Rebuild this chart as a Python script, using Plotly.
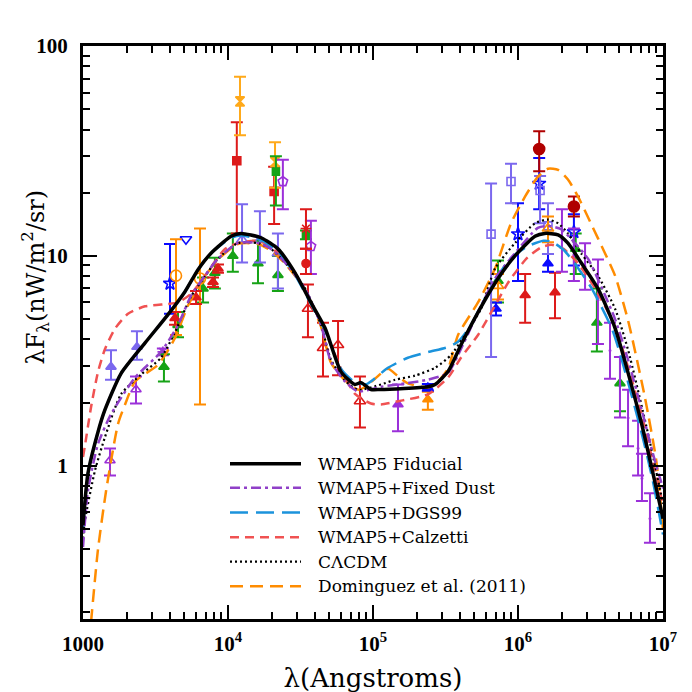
import plotly.graph_objects as go

# ---------------- model curves: wavelength [Angstrom] vs lambda F_lambda [nW/m^2/sr]
fid_lam = [1000, 1082, 1269, 1418, 1828, 2679, 3854, 5047, 6209, 7638, 10500, 12300, 16900,
           22100, 29000, 37300, 46700, 60100, 75100, 82600, 96800, 111600, 239000, 268000,
           329000, 404000, 530000, 728000, 953000, 1.31e6, 1.53e6, 1.89e6, 2.21e6, 2.72e6,
           3.56e6, 4.67e6, 7.05e6, 8.53e6, 1e7]
fid_flux = [0.52, 0.92, 1.45, 1.85, 2.75, 3.85, 5.25, 6.75, 8.6, 10.3, 12.4, 12.8, 12.2,
            10.8, 8.3, 6.0, 4.53, 2.81, 2.44, 2.49, 2.31, 2.31, 2.38, 2.44,
            2.81, 3.76, 5.38, 7.8, 10.0, 12.4, 12.8, 12.6, 11.5, 9.3,
            6.98, 4.53, 1.63, 0.92, 0.56]

dust_lam = [1000, 1082, 1269, 1560, 2285, 3451, 4520, 5560, 6940, 8530, 11700, 16100, 19800,
            24700, 34000, 43800, 51300, 64100, 78800, 113600, 148700, 239000, 329000, 386000,
            530000, 694000, 953000, 1.37e6, 1.61e6, 1.98e6, 2.47e6, 3.04e6, 3.73e6, 4.67e6,
            5.74e6, 7.2e6, 8.5e6, 1e7]
dust_flux = [0.41, 0.76, 1.27, 1.76, 2.63, 3.49, 4.68, 6.47, 8.05, 9.7, 11.5, 11.5, 10.8,
             9.3, 6.98, 4.68, 3.13, 2.52, 2.26, 2.38, 2.44, 2.57, 2.77, 3.37,
             5.38, 7.8, 10.3, 13.6, 13.9, 13.4, 11.5, 9.7, 7.2, 5.0,
             3.2, 1.8, 1.15, 0.78]

dgs_lam = [1000, 1082, 1269, 1418, 1828, 2679, 3854, 5047, 6209, 7638, 10500, 12300, 16900,
           22100, 29000, 37300, 46700, 60100, 75100, 90000, 126800, 174000, 239000, 329000,
           386000, 474000, 556000, 694000, 870000, 1.16e6, 1.5e6, 1.7e6, 2.06e6, 2.52e6,
           3.22e6, 4.5e6, 7.0e6, 8.5e6, 1e7]
dgs_flux = [0.5, 0.92, 1.45, 1.85, 2.75, 3.85, 5.25, 6.75, 8.6, 10.3, 12.2, 12.5, 11.9,
            10.5, 8.1, 5.9, 4.4, 2.9, 2.5, 2.45, 2.93, 3.27, 3.48, 3.68,
            3.9, 4.68, 5.8, 7.6, 9.6, 11.1, 11.8, 11.7, 10.7, 9.0,
            7.0, 4.4, 1.5, 0.85, 0.47]

calz_lam = [1000, 1032, 1136, 1269, 1418, 1662, 2042, 2679, 3854, 4520, 5560, 6940, 9530,
            11700, 15300, 18000, 22100, 29000, 37300, 46700, 60100, 75100, 96800, 113600,
            160000, 239000, 329000, 404000, 530000, 694000, 870000, 1.16e6, 1.45e6, 1.7e6,
            2.06e6, 2.6e6, 3.4e6, 4.67e6, 7.05e6, 8.5e6, 1e7]
calz_flux = [1.1, 1.25, 1.9, 2.8, 3.6, 4.5, 5.3, 5.75, 5.9, 6.0, 6.6, 8.05, 10.8,
             11.5, 11.8, 11.5, 10.3, 8.3, 6.0, 4.4, 2.9, 2.2, 1.98, 1.96,
             2.05, 2.19, 2.63, 3.27, 4.2, 5.8, 7.6, 9.8, 11.0, 11.3,
             10.8, 9.2, 7.0, 4.6, 1.8, 1.05, 0.65]

clcdm_lam = [1000, 1032, 1210, 1418, 1828, 2512, 3451, 4310, 5560, 6940, 8530, 11700, 16100,
             19800, 24700, 34000, 43800, 51300, 64100, 78800, 113600, 142000, 195000, 268000,
             345000, 431000, 556000, 694000, 953000, 1.31e6, 1.61e6, 1.89e6, 2.21e6, 2.72e6,
             3.56e6, 4.67e6, 5.74e6, 7.89e6, 1e7]
clcdm_flux = [0.45, 0.55, 0.95, 1.37, 2.19, 2.72, 3.27, 4.33, 6.4, 8.0, 9.7, 11.5, 11.5,
              10.8, 9.3, 7.0, 4.7, 3.2, 2.55, 2.3, 2.44, 2.57, 2.69, 2.93,
              3.37, 4.2, 5.6, 8.7, 11.5, 14.3, 14.9, 14.3, 12.8, 10.3,
              8.05, 5.6, 3.57, 1.42, 0.66]

dom_lam = [1136, 1269, 1443, 1743, 1950, 2285, 3290, 4300, 5300, 6940, 8530, 11700, 16100,
           19800, 24700, 34000, 43800, 51300, 64100, 80000, 100000, 126800, 148700, 174000,
           239000, 268000, 329000, 386000, 530000, 694000, 895000, 1.12e6, 1.37e6, 1.61e6,
           1.89e6, 2.21e6, 2.59e6, 3.18e6, 3.98e6, 4.67e6, 5.74e6, 7.51e6, 9.0e6, 1e7]
dom_flux = [0.18, 0.40, 0.76, 1.58, 1.96, 2.52, 3.03, 4.05, 5.8, 8.0, 9.6, 11.4, 11.4,
            10.6, 9.2, 6.9, 4.6, 3.1, 2.55, 2.3, 2.55, 2.9, 2.67, 2.47,
            2.36, 2.44, 2.9, 4.2, 6.0, 8.7, 14.3, 19.2, 23.8, 26.0,
            25.7, 23.1, 19.2, 14.3, 10.3, 8.05, 4.93, 2.11, 1.05, 0.5]

# ---------------- measurements (value, upper and lower end of error bar)
slate_tri_lam = [1560, 2355]
slate_tri_f = [2.96, 3.68]
slate_tri_hi = [3.55, 4.38]
slate_tri_lo = [2.57, 3.2]

purple_otri_lam = [1535, 2320]
purple_otri_f = [1.06, 2.31]
purple_otri_hi = [1.21, 2.66]
purple_otri_lo = [0.90, 1.98]

purple_ast_lam = [3555]
purple_ast_f = [3.49]
purple_ast_hi = [3.62]
purple_ast_lo = [3.36]

green_tri_lam = [3616, 4520, 6730, 8120, 10800, 16100, 22100, 728000, 2.5e6, 3.5e6, 5.05e6]
green_tri_f = [2.96, 4.68, 6.98, 8.3, 10.0, 9.2, 8.1, 7.6, 10.8, 4.8, 2.47]
green_tri_hi = [3.4, 5.4, 7.9, 9.8, 12.8, 11.8, 10.0, 9.5, 12.8, 7.0, 3.3]
green_tri_lo = [2.52, 4.1, 6.0, 7.0, 8.4, 7.4, 6.8, 6.0, 8.2, 3.5, 1.82]

blue_star_lam = [3981, 1e6, 1.4e6, 2.43e6]
blue_star_f = [7.38, 12.7, 22.1, 13.0]
blue_star_hi = [11.4, 17.8, 29.3, 15.8]
blue_star_lo = [5.3, 7.6, 16.7, 9.0]

blue_down_lam = [5130]
blue_down_f = [12.0]

orange_circ_lam = [4380, 6410]
orange_circ_f = [8.05, 7.8]
orange_circ_hi = [12.0, 13.5]
orange_circ_lo = [4.2, 1.96]

red_tri_lam = [4310, 6020, 7880, 8530, 1.12e6, 1.80e6]
red_tri_f = [5.05, 6.34, 7.5, 8.7, 6.5, 6.7]
red_tri_hi = [5.4, 6.8, 7.9, 9.1, 8.2, 8.3]
red_tri_lo = [4.7, 5.9, 7.1, 8.3, 4.8, 5.05]

red_sq_lam = [11500, 20800]
red_sq_f = [28.4, 20.3]
red_sq_hi = [43.3, 26.6]
red_sq_lo = [12.8, 14.2]

orange_bow_lam = [12100, 21100]
orange_bow_f = [54.5, 28.0]
orange_bow_hi = [71.4, 34.8]
orange_bow_lo = [37.6, 21.1]

slate_otri_lam = [12500, 16600, 22100]
slate_otri_f = [11.9, 11.9, 10.3]
slate_otri_hi = [17.6, 16.3, 12.8]
slate_otri_lo = [9.3, 9.3, 7.0]

green_sq_lam = [21400, 34500]
green_sq_f = [25.2, 12.6]
green_sq_hi = [29.8, 13.2]
green_sq_lo = [17.4, 12.0]

purple_pent_lam = [23900, 37300]
purple_pent_f = [22.6, 11.1]
purple_pent_hi = [28.7, 14.7]
purple_pent_lo = [16.7, 8.2]

red_ast_lam = [34500]
red_ast_f = [13.5]
red_ast_hi = [16.7]
red_ast_lo = [10.8]

red_circ_lam = [34500]
red_circ_f = [9.2]
red_circ_hi = [10.8]
red_circ_lo = [8.2]

red_otri_lam = [35600, 45200, 57400, 81300]
red_otri_f = [5.6, 3.64, 3.76, 2.03]
red_otri_hi = [7.3, 4.8, 4.9, 2.66]
red_otri_lo = [4.1, 2.66, 2.7, 1.52]

purple_tri_lam = [148700]
purple_tri_f = [1.96]
purple_tri_hi = [2.44]
purple_tri_lo = [1.46]

orange_tri_lam = [239000]
orange_tri_f = [2.07]
orange_tri_hi = [2.25]
orange_tri_lo = [1.85]

blue_tri_lam = [239000, 705000, 1.61e6]
blue_tri_f = [2.36, 5.6, 9.2]
blue_tri_hi = [2.45, 6.0, 10.2]
blue_tri_lo = [2.28, 5.2, 8.4]

slate_osq_lam = [652000, 895000, 1.42e6, 1.61e6]
slate_osq_f = [12.7, 22.6, 20.5, 13.9]
slate_osq_hi = [22.1, 27.5, 24.0, 17.8]
slate_osq_lo = [3.3, 17.8, 14.3, 10.2]

orange_otri_lam = [728000, 1.61e6]
orange_otri_f = [7.2, 13.5]
orange_otri_hi = [8.2, 15.4]
orange_otri_lo = [6.2, 11.6]

dred_circ_lam = [1.40e6, 2.43e6]
dred_circ_f = [32.3, 17.2]
dred_circ_hi = [39.3, 19.2]
dred_circ_lo = [25.3, 15.4]

violet_bar_lam = [2.01e6, 2.43e6, 2.90e6, 3.56e6, 4.31e6, 5.05e6, 5.74e6, 6.73e6, 7.16e6, 8.13e6]
violet_bar_f = [12.0, 10.1, 8.9, 6.15, 3.54, 2.4, 1.69, 1.21, 0.87, 0.56]
violet_bar_hi = [16.7, 13.5, 11.5, 9.6, 4.8, 3.3, 2.3, 1.64, 1.14, 0.74]
violet_bar_lo = [8.4, 7.6, 6.9, 3.8, 2.6, 1.7, 1.24, 0.9, 0.68, 0.43]

legend_labels = ["WMAP5 Fiducial", "WMAP5+Fixed Dust", "WMAP5+DGS99",
                 "WMAP5+Calzetti", "C\u039bCDM", "Dominguez et al. (2011)"]

RED = "#dd1a1a"
DRED = "#b00000"
ORANGE = "#ff8c00"
LORANGE = "#ffa91a"
GREEN = "#16a316"
BLUE = "#0a0aff"
SLATE = "#7b68ee"
PURPLE = "#9b30d9"

SERIF = "DejaVu Serif"

# plot area in pixels (for legend / title placement)
L, R, T, B = 75, 655, 38, 617


def px(x):
    return (x - L) / (R - L)


def py(y):
    return 1 - (y - T) / (B - T)


fig = go.Figure()

# (x, y, colour, dash, width) in legend order
curves = [
    (fid_lam, fid_flux, "black", "solid", 3.5),
    (dust_lam, dust_flux, "#9040c8", "10px,4px,3px,4px", 2.5),
    (dgs_lam, dgs_flux, "#1b93dc", "18px,8px", 2.5),
    (calz_lam, calz_flux, "#f05252", "9px,6px", 2.5),
    (clcdm_lam, clcdm_flux, "black", "2px,3px", 2.2),
    (dom_lam, dom_flux, ORANGE, "13px,7px", 2.5),
]
draw_order = [5, 3, 2, 4, 1, 0]  # fiducial ends up on top


def add_points(lam, f, hi, lo, color, symbol, size=9):
    err = None
    if hi is not None:
        err = dict(type="data", symmetric=False,
                   array=[h - v for h, v in zip(hi, f)],
                   arrayminus=[v - l for v, l in zip(f, lo)],
                   color=color, thickness=2, width=6)
    fig.add_trace(go.Scatter(
        x=lam, y=f, mode="markers", error_y=err,
        marker=dict(symbol=symbol, size=size, color=color,
                    line=dict(color=color, width=1.6)),
        showlegend=False))


add_points(slate_tri_lam, slate_tri_f, slate_tri_hi, slate_tri_lo, SLATE, "triangle-up")
add_points(purple_otri_lam, purple_otri_f, purple_otri_hi, purple_otri_lo, PURPLE, "triangle-up-open")
add_points(purple_ast_lam, purple_ast_f, purple_ast_hi, purple_ast_lo, PURPLE, "asterisk-open")
add_points(green_tri_lam, green_tri_f, green_tri_hi, green_tri_lo, GREEN, "triangle-up")
add_points(blue_star_lam, blue_star_f, blue_star_hi, blue_star_lo, BLUE, "star-open", 10)
add_points(blue_down_lam, blue_down_f, None, None, BLUE, "triangle-down-open", 10)
add_points(orange_circ_lam, orange_circ_f, orange_circ_hi, orange_circ_lo, ORANGE, "circle-open", 11)
add_points(red_tri_lam, red_tri_f, red_tri_hi, red_tri_lo, RED, "triangle-up")
add_points(red_sq_lam, red_sq_f, red_sq_hi, red_sq_lo, RED, "square", 8)
add_points(orange_bow_lam, orange_bow_f, orange_bow_hi, orange_bow_lo, LORANGE, "hourglass", 9)
add_points(slate_otri_lam, slate_otri_f, slate_otri_hi, slate_otri_lo, SLATE, "triangle-up-open", 10)
add_points(green_sq_lam, green_sq_f, green_sq_hi, green_sq_lo, GREEN, "square", 7)
add_points(purple_pent_lam, purple_pent_f, purple_pent_hi, purple_pent_lo, PURPLE, "pentagon-open", 10)
add_points(red_ast_lam, red_ast_f, red_ast_hi, red_ast_lo, RED, "asterisk-open", 9)
add_points(red_circ_lam, red_circ_f, red_circ_hi, red_circ_lo, RED, "circle", 8)
add_points(red_otri_lam, red_otri_f, red_otri_hi, red_otri_lo, RED, "triangle-up-open", 10)
add_points(purple_tri_lam, purple_tri_f, purple_tri_hi, purple_tri_lo, PURPLE, "triangle-up")
add_points(orange_tri_lam, orange_tri_f, orange_tri_hi, orange_tri_lo, ORANGE, "triangle-up")
add_points(blue_tri_lam, blue_tri_f, blue_tri_hi, blue_tri_lo, BLUE, "triangle-up")
add_points(slate_osq_lam, slate_osq_f, slate_osq_hi, slate_osq_lo, SLATE, "square-open", 8)
add_points(orange_otri_lam, orange_otri_f, orange_otri_hi, orange_otri_lo, ORANGE, "triangle-up-open", 10)
add_points(dred_circ_lam, dred_circ_f, dred_circ_hi, dred_circ_lo, DRED, "circle", 11)
add_points(violet_bar_lam, violet_bar_f, violet_bar_hi, violet_bar_lo, PURPLE, "line-ew-open", 2)

for i in draw_order:
    lam, flux, color, dash, width = curves[i]
    fig.add_trace(go.Scatter(
        x=lam, y=flux, mode="lines",
        line=dict(color=color, dash=dash, width=width, shape="spline", smoothing=0.6),
        showlegend=False))

# hand-drawn legend (long line samples as in the original)
rows = [460, 484.5, 509.5, 534.5, 559, 584]
for (lam, flux, color, dash, width), label, yrow in zip(curves, legend_labels, rows):
    fig.add_shape(type="line", xref="paper", yref="paper",
                  x0=px(222), x1=px(293), y0=py(yrow), y1=py(yrow),
                  line=dict(color=color, dash=dash, width=width))
    fig.add_annotation(text=label, xref="paper", yref="paper",
                       x=px(308), y=py(yrow), xanchor="left", yanchor="middle",
                       showarrow=False, font=dict(family=SERIF, size=17, color="black"))

fig.add_annotation(text="\u03bbF<sub>\u03bb</sub>(nW/m<sup>2</sup>/sr)",
                   xref="paper", yref="paper", textangle=-90,
                   x=px(27), y=py(272), xanchor="center", yanchor="middle",
                   showarrow=False, font=dict(family=SERIF, size=24, color="black"))

x_minor = [m * 10 ** e for e in range(3, 7) for m in range(2, 10)]
y_minor = [m * 10 ** e for e in (-1, 0, 1) for m in range(2, 10)]

tickfont = dict(family="Liberation Serif", size=21, color="black", weight="bold")

fig.update_xaxes(
    type="log", range=[3, 7],
    tickvals=[1000, 1e4, 1e5, 1e6, 1e7],
    ticktext=["1000", "10<sup>4</sup>", "10<sup>5</sup>", "10<sup>6</sup>", "10<sup>7</sup>"],
    ticks="inside", ticklen=14, tickwidth=2, tickcolor="black",
    minor=dict(ticks="inside", ticklen=7, tickwidth=2, tickcolor="black", tickvals=x_minor),
    showline=True, linecolor="black", linewidth=3, mirror="allticks",
    showgrid=False, zeroline=False, tickfont=tickfont, ticklabelstandoff=4,
    title=dict(text="\u03bb(Angstroms)", standoff=14,
               font=dict(family=SERIF, size=26, color="black")))

fig.update_yaxes(
    type="log", range=[-0.73, 2],
    tickvals=[1, 10, 100], ticktext=["1", "10", "100"],
    ticks="inside", ticklen=14, tickwidth=2, tickcolor="black",
    minor=dict(ticks="inside", ticklen=7, tickwidth=2, tickcolor="black", tickvals=y_minor),
    showline=True, linecolor="black", linewidth=3, mirror="allticks",
    showgrid=False, zeroline=False, tickfont=tickfont, ticklabelstandoff=8)

fig.update_layout(
    width=692, height=692,
    margin=dict(l=L, r=692 - R, t=T, b=692 - B),
    paper_bgcolor="white", plot_bgcolor="white",
    showlegend=False,
)

fig.write_html("out.html")
